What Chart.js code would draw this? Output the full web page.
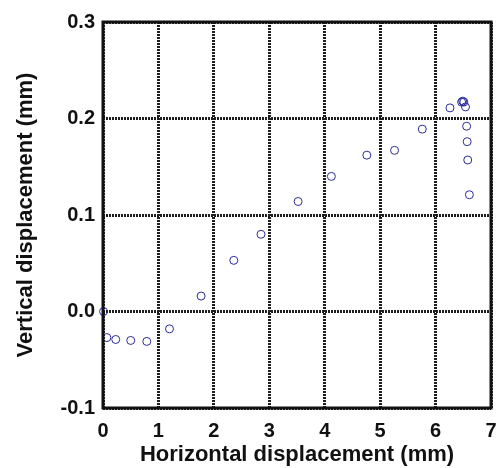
<!DOCTYPE html>
<html>
<head>
<meta charset="utf-8">
<script src="https://cdn.jsdelivr.net/npm/chart.js@4"></script>
<style>
  html, body { margin: 0; padding: 0; background: #fff; }
  #wrap { width: 497px; height: 468px; }
</style>
</head>
<body>
<div id="wrap"><canvas id="scatterChart"></canvas></div>
<script>
  // Measured points (mm)
  var horizontal = [0.01, 0.07, 0.23, 0.50, 0.79, 1.20, 1.77, 2.36, 2.85, 3.52, 4.12, 4.76, 5.26, 5.76, 6.26, 6.47, 6.49, 6.51, 6.54, 6.56, 6.57, 6.58, 6.61];
  var vertical = [0.000, -0.027, -0.029, -0.030, -0.031, -0.018, 0.016, 0.053, 0.080, 0.114, 0.140, 0.162, 0.167, 0.189, 0.211, 0.217, 0.218, 0.217, 0.212, 0.192, 0.176, 0.157, 0.121];

  var xTicks = [0, 1, 2, 3, 4, 5, 6, 7];
  var yTicks = [-0.1, 0.0, 0.1, 0.2, 0.3];

  var points = horizontal.map(function (x, i) { return { x: x, y: vertical[i] }; });

  var fontFamily = '"Liberation Sans", Arial, Helvetica, sans-serif';

  // Thick black frame round the plot area
  var framePlugin = {
    id: 'frame',
    afterDatasetsDraw: function (chart) {
      var a = chart.chartArea;
      var ctx = chart.ctx;
      ctx.save();
      ctx.strokeStyle = '#111';
      ctx.lineWidth = 3;
      ctx.strokeRect(a.left, a.top, a.right - a.left, a.bottom - a.top);
      ctx.restore();
    }
  };

  var gridStyle = {
    color: '#1e1e1e',
    lineWidth: 3,
    drawTicks: false
  };

  var ctx = document.getElementById('scatterChart').getContext('2d');
  var scatterChart = new Chart(ctx, {
    type: 'scatter',
    data: {
      datasets: [{
        data: points,
        showLine: false,
        clip: false,
        pointRadius: 4,
        pointBorderWidth: 1,
        pointBorderColor: '#2b2b9a',
        pointBackgroundColor: 'rgba(0,0,0,0)'
      }]
    },
    options: {
      responsive: true,
      maintainAspectRatio: false,
      animation: false,
      layout: { padding: { top: 22, right: 6, left: 0, bottom: 0 } },
      plugins: {
        legend: { display: false },
        tooltip: { enabled: false }
      },
      scales: {
        x: {
          type: 'linear',
          min: 0,
          max: 7,
          afterBuildTicks: function (scale) {
            scale.ticks = xTicks.map(function (v) { return { value: v }; });
          },
          afterFit: function (scale) {
            scale.height = 60;
            scale.paddingLeft = 0;
            scale.paddingRight = 0;
          },
          grid: gridStyle,
          border: { display: false, dash: [2, 1] },
          ticks: {
            color: '#111',
            padding: 11,
            font: { family: fontFamily, size: 20, weight: 'bold' },
            maxRotation: 0,
            callback: function (v) { return String(v); }
          },
          title: {
            display: true,
            text: 'Horizontal displacement (mm)',
            color: '#111',
            padding: { top: -3, bottom: 0 },
            font: { family: fontFamily, size: 22, weight: 'bold' }
          }
        },
        y: {
          type: 'linear',
          min: -0.1,
          max: 0.3,
          afterBuildTicks: function (scale) {
            scale.ticks = yTicks.map(function (v) { return { value: v }; });
          },
          afterFit: function (scale) {
            scale.width = 103;
            scale.paddingTop = 0;
            scale.paddingBottom = 0;
          },
          grid: gridStyle,
          border: { display: false, dash: [2, 1] },
          ticks: {
            color: '#111',
            padding: 8,
            font: { family: fontFamily, size: 20, weight: 'bold' },
            callback: function (v) { return Number(v).toFixed(1); }
          },
          title: {
            display: true,
            text: 'Vertical displacement (mm)',
            color: '#111',
            padding: { top: 13, bottom: 0 },
            font: { family: fontFamily, size: 22, weight: 'bold' }
          }
        }
      }
    },
    plugins: [framePlugin]
  });
</script>
</body>
</html>
